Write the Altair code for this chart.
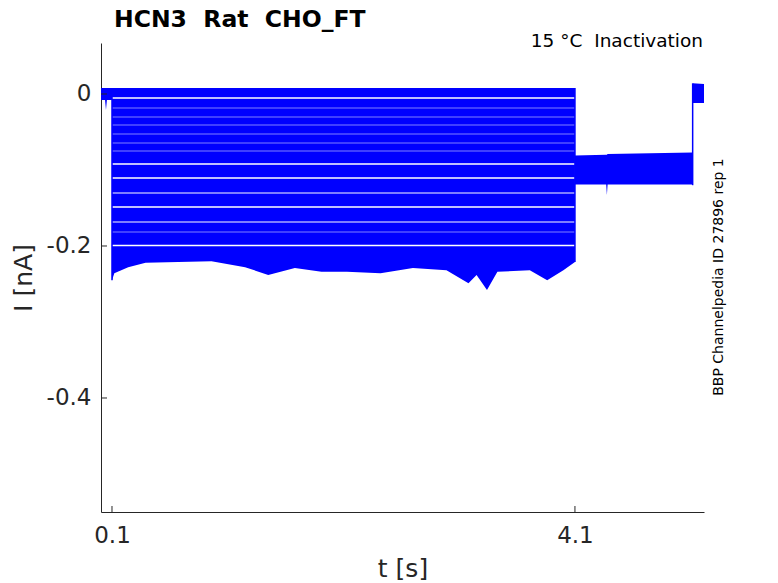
import altair as alt
import pandas as pd

# ---- data (t in s, I in nA) ----
# envelope (top / bottom) of each stacked inactivation trace during the 0.1-4.1 s step
TRACE_TOP = [0.0079, -0.00637, -0.01888, -0.03072, -0.04125, -0.05309, -0.06493, -0.07546,
             -0.09323, -0.11165, -0.13105, -0.14980, -0.16921, -0.18204, -0.20046]
TRACE_BOTTOM = [-0.00413, -0.01796, -0.02980, -0.04033, -0.05217, -0.06401, -0.07454, -0.09099,
                -0.10941, -0.12947, -0.14756, -0.16763, -0.18112, -0.19822]
PULSE_T = [0.1, 4.1]

# lower edge of the deepest trace
BOTTOM_T = [0.10, 0.12, 0.15, 0.24, 0.39, 0.67, 0.96, 1.25, 1.45, 1.68, 1.91, 2.13, 2.42,
            2.70, 2.99, 3.18, 3.25, 3.34, 3.43, 3.71, 3.86, 4.00, 4.10]
BOTTOM_I = [-0.245, -0.236, -0.234, -0.228, -0.222, -0.221, -0.220, -0.228, -0.238, -0.229,
            -0.234, -0.234, -0.236, -0.229, -0.232, -0.249, -0.238, -0.258, -0.234,
            -0.232, -0.245, -0.232, -0.221]

# holding segment before the step
HOLD_T = [0.005, 0.040, 0.048, 0.056, 0.100]
HOLD_LO = [-0.008, -0.008, -0.021, -0.008, -0.008]
HOLD_HI = [0.008, 0.008, 0.008, 0.008, 0.008]

# common tail after the step
TAIL_T = [4.100, 4.370, 4.376, 4.382, 5.117]
TAIL_LO = [-0.119, -0.119, -0.133, -0.119, -0.119]
TAIL_HI = [-0.081, -0.080, -0.080, -0.079, -0.077]

# return to holding
FINAL_T = [5.117, 5.215]
FINAL_LO = [-0.012, -0.012]
FINAL_HI = [0.014, 0.013]

# vertical transitions
STEP_T = [0.1, 4.1, 5.117]
STEP_LO = [-0.245, -0.221, -0.120]
STEP_HI = [0.008, 0.008, 0.014]

Y_TICKS = [0, -0.2, -0.4]
X_TICKS = [0.1, 4.1]

BLUE = "#0000FF"
AXIS = "#262626"
FONT = "DejaVu Sans"
W, H = 603, 469

# ---- build tables ----
rows = []
for i, (top, bot) in enumerate(zip(TRACE_TOP[:-1], TRACE_BOTTOM)):
    for t in PULSE_T:
        rows.append({"band": f"trace{i}", "t": t, "lo": bot, "hi": top})
for t, lo in zip(BOTTOM_T, BOTTOM_I):
    rows.append({"band": "trace_last", "t": t, "lo": lo, "hi": TRACE_TOP[-1]})
for t, lo, hi in zip(HOLD_T, HOLD_LO, HOLD_HI):
    rows.append({"band": "hold", "t": t, "lo": lo, "hi": hi})
for t, lo, hi in zip(TAIL_T, TAIL_LO, TAIL_HI):
    rows.append({"band": "tail", "t": t, "lo": lo, "hi": hi})
for t, lo, hi in zip(FINAL_T, FINAL_LO, FINAL_HI):
    rows.append({"band": "final", "t": t, "lo": lo, "hi": hi})
bands = pd.DataFrame(rows)

steps = pd.DataFrame({"t": STEP_T, "lo": STEP_LO, "hi": STEP_HI})

xscale = alt.Scale(domain=[0.005, 5.215], nice=False, zero=False)
yscale = alt.Scale(domain=[-0.55, 0.0671], nice=False, zero=False)
X_AX = alt.Axis(values=X_TICKS, format=".1f", ticks=False, grid=False,
                labelPadding=12, titlePadding=9)
Y_AX = alt.Axis(values=Y_TICKS, ticks=False, grid=False, labelPadding=10, titlePadding=10,
                labelExpr="datum.value == 0 ? '0' : '-' + format(abs(datum.value), '.1f')")
XT, YT = "t [s]", "I [nA]"

area = alt.Chart(bands).mark_area(color=BLUE, orient="vertical", opacity=1).encode(
    x=alt.X("t:Q", scale=xscale, title=XT, axis=X_AX),
    y=alt.Y("hi:Q", scale=yscale, title=YT, axis=Y_AX),
    y2="lo:Q",
    detail="band:N",
)

step_rules = alt.Chart(steps).mark_rule(color=BLUE, strokeWidth=1.5).encode(
    x=alt.X("t:Q", scale=xscale, title=XT, axis=X_AX),
    y=alt.Y("hi:Q", scale=yscale, title=YT, axis=Y_AX),
    y2="lo:Q",
)

ytick = alt.Chart(pd.DataFrame({"v": Y_TICKS})).mark_rule(color=AXIS, strokeWidth=1).encode(
    y=alt.Y("v:Q", scale=yscale, title=YT, axis=Y_AX), x=alt.value(0), x2=alt.value(6)
)
xtick = alt.Chart(pd.DataFrame({"v": X_TICKS})).mark_rule(color=AXIS, strokeWidth=1).encode(
    x=alt.X("v:Q", scale=xscale, title=XT, axis=X_AX), y=alt.value(H), y2=alt.value(H - 6)
)

title = alt.Chart(pd.DataFrame({"s": ["HCN3\u00a0\u00a0Rat\u00a0\u00a0CHO_FT"]})).mark_text(
    font=FONT, fontSize=23.5, fontWeight="bold", color="black", align="left", baseline="alphabetic"
).encode(text="s:N", x=alt.value(13), y=alt.value(-16.5))

subtitle = alt.Chart(pd.DataFrame({"s": ["15 °C\u00a0\u00a0Inactivation"]})).mark_text(
    font=FONT, fontSize=18.5, color="black", align="right", baseline="alphabetic"
).encode(text="s:N", x=alt.value(602), y=alt.value(4))

side = alt.Chart(pd.DataFrame({"s": ["BBP Channelpedia ID 27896 rep 1"]})).mark_text(
    font=FONT, fontSize=14, color="black", align="center", baseline="alphabetic", angle=270
).encode(text="s:N", x=alt.value(622), y=alt.value(234))

chart = alt.layer(area, step_rules, ytick, xtick, title, subtitle, side).properties(
    width=W, height=H,
    autosize=alt.AutoSizeParams(type="none"),
    padding={"left": 93, "top": 35, "right": 60, "bottom": 70},
).configure_view(stroke=None).configure_axis(
    domainColor=AXIS, domainWidth=1, labelColor=AXIS, labelFont=FONT, labelFontSize=23,
    titleFont=FONT, titleFontSize=25, titleColor=AXIS, titleFontWeight="normal",
)

chart.save("out.html", embed_options={"renderer": "svg", "actions": False})
